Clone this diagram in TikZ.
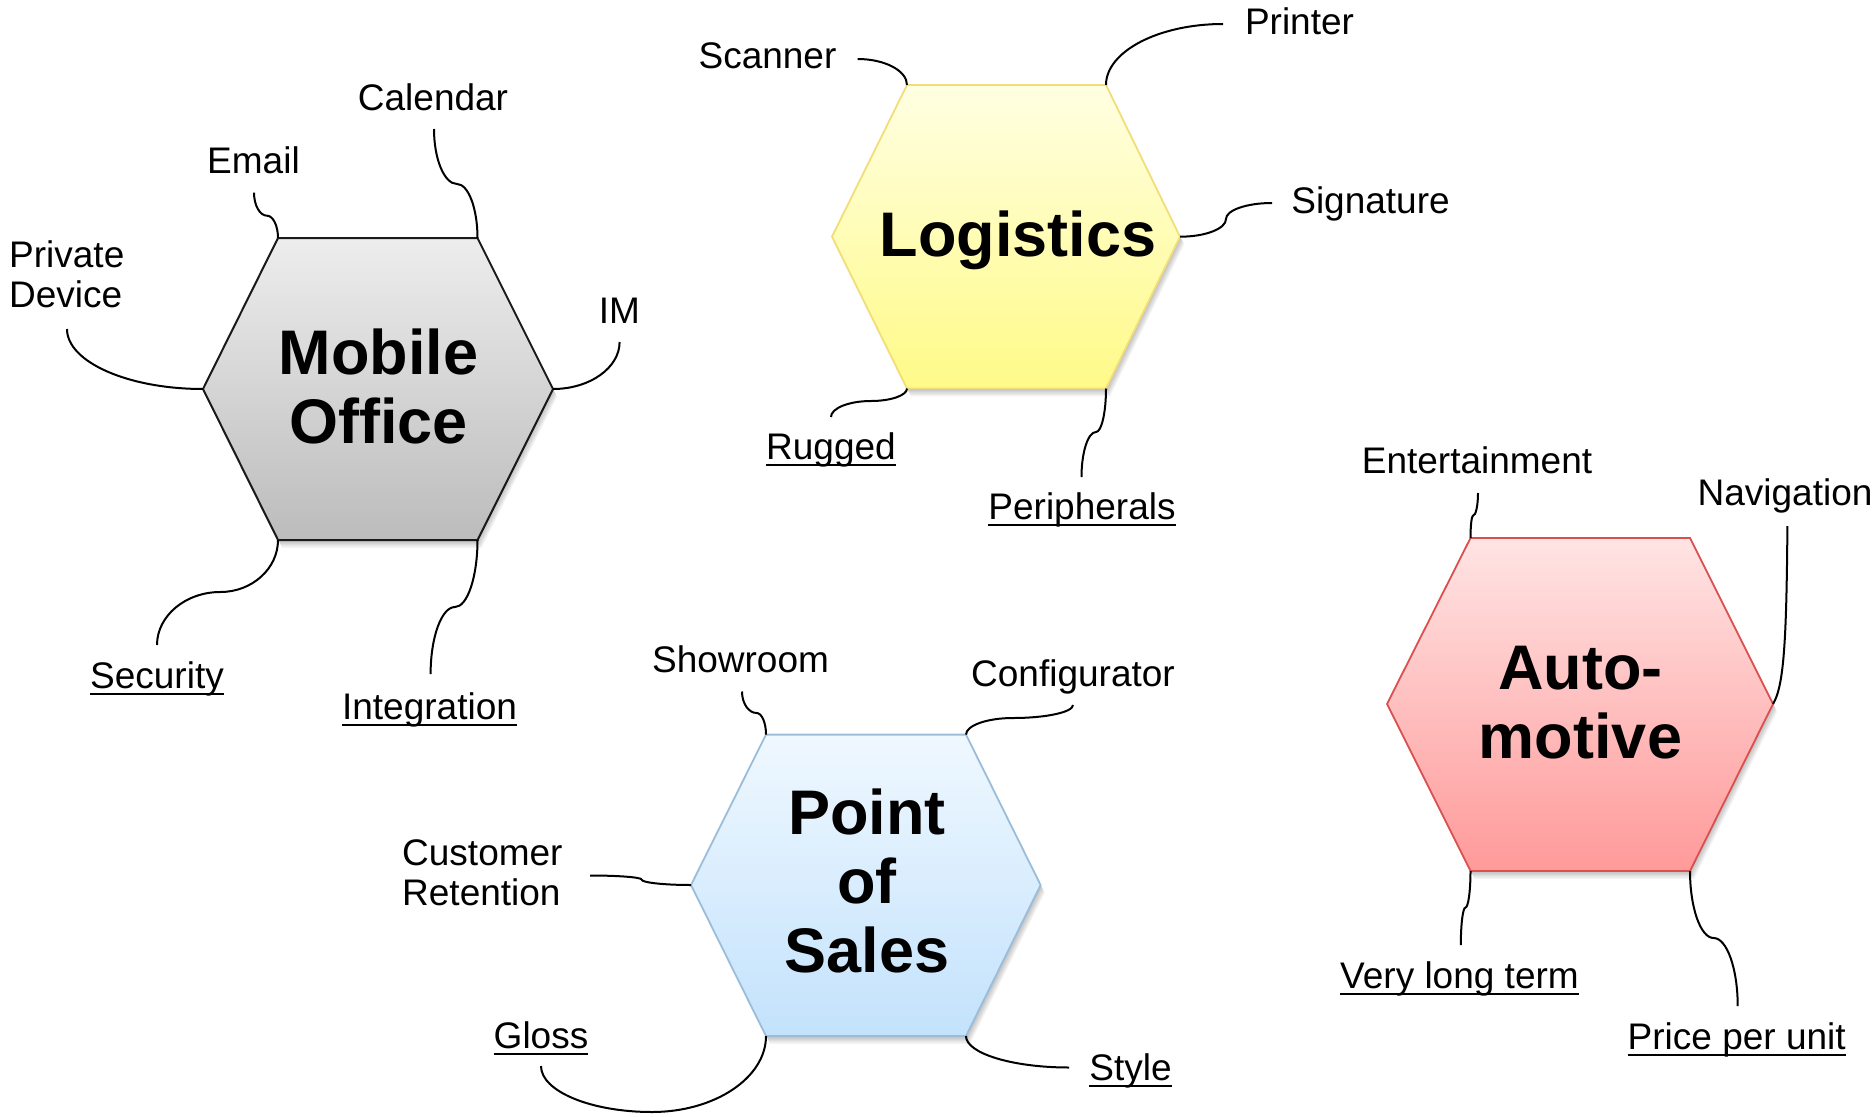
\documentclass[tikz,border=0pt]{standalone}
\usepackage{fontspec}
\setmainfont{Liberation Sans}
\usetikzlibrary{calc}
\newcommand\ulbl[1]{\setbox0=\hbox{#1}\rlap{\rule[-7pt]{\wd0}{2.5pt}}\box0}
\newcommand\cvhv[3]{\draw[conn] let \p1=(#1),\p2=(#2),\p3=(#3) in (\p1) .. controls (\x1,{\y1+0.55*(\y2-\y1)}) and ({\x2-0.55*(\x2-\x1)},\y2) .. (\p2) .. controls ({\x2+0.55*(\x3-\x2)},\y2) and (\x3,{\y3-0.55*(\y3-\y2)}) .. (\p3);}
\newcommand\chvh[3]{\draw[conn] let \p1=(#1),\p2=(#2),\p3=(#3) in (\p1) .. controls ({\x1+0.55*(\x2-\x1)},\y1) and (\x2,{\y2-0.55*(\y2-\y1)}) .. (\p2) .. controls (\x2,{\y2+0.55*(\y3-\y2)}) and ({\x3-0.55*(\x3-\x2)},\y3) .. (\p3);}
\newcommand\cvh[2]{\draw[conn] let \p1=(#1),\p2=(#2) in (\p1) .. controls (\x1,{\y1+0.55*(\y2-\y1)}) and ({\x2-0.55*(\x2-\x1)},\y2) .. (\p2);}
\newcommand\chv[2]{\draw[conn] let \p1=(#1),\p2=(#2) in (\p1) .. controls ({\x1+0.55*(\x2-\x1)},\y1) and (\x2,{\y2-0.55*(\y2-\y1)}) .. (\p2);}
% #1 name, #2 style, #3 xl, #4 xtl, #5 xtr, #6 xr, #7 ytop, #8 ymid, #9 ybot
\newcommand\hexa[9]{%
  \foreach \k in {1,...,6}{\fill[black,opacity=0.045,shift={(\k*0.7,\k*1.3)}] (#3,#8)--(#4,#7)--(#5,#7)--(#6,#8)--(#5,#9)--(#4,#9)--cycle;}
  \draw[#2] (#3,#8) coordinate (#1-l) -- (#4,#7) coordinate (#1-tl) -- (#5,#7) coordinate (#1-tr) -- (#6,#8) coordinate (#1-r) -- (#5,#9) coordinate (#1-br) -- (#4,#9) coordinate (#1-bl) -- cycle;}
\definecolor{moT}{HTML}{EDEDED}\definecolor{moB}{HTML}{BCBCBC}\definecolor{moD}{HTML}{1A1A1A}
\definecolor{loT}{HTML}{FFFFE2}\definecolor{loB}{HTML}{FFFA88}\definecolor{loD}{HTML}{F2DE78}
\definecolor{poT}{HTML}{EFF8FF}\definecolor{poB}{HTML}{C3E2FC}\definecolor{poD}{HTML}{9BBDDA}
\definecolor{auT}{HTML}{FFE4E4}\definecolor{auB}{HTML}{FF9A9A}\definecolor{auD}{HTML}{D9504F}
\begin{document}
\begin{tikzpicture}[x=1pt,y=-1pt,
  conn/.style={line width=2pt,black},
  lbl/.style={inner sep=0pt,font=\fontsize{37}{40}\selectfont,anchor=base},
  ttl/.style={inner sep=0pt,font=\fontsize{63}{69}\selectfont\bfseries,align=center,anchor=base},
  mohex/.style={line width=2pt,draw=moD,top color=moT,bottom color=moB},
  lohex/.style={line width=1.8pt,draw=loD,top color=loT,bottom color=loB},
  pohex/.style={line width=1.8pt,draw=poD,top color=poT,bottom color=poB},
  auhex/.style={line width=1.8pt,draw=auD,top color=auT,bottom color=auB}]
\fill[white] (0,0) rectangle (1876,1116);
\useasboundingbox (0,0) rectangle (1876,1116);

% ---------- hexagons
\hexa{mo}{mohex}{203}{278}{477.5}{553}{238}{389}{540}
\hexa{lo}{lohex}{832}{907}{1106}{1180}{85}{236.7}{388.5}
\hexa{po}{pohex}{691}{766}{966}{1040.6}{734.6}{885}{1036}
\hexa{au}{auhex}{1387}{1470.5}{1690}{1773}{538}{704}{871}

% ---------- titles (anchor base = last line)
\node[ttl] (mot) at (378.5,443) {Mobile\\Office};
\node[ttl] (lot) at (1018,256.6) {Logistics};
\node[ttl] (pot) at (867,972.6) {Point\\of\\Sales};
\node[ttl] (aut) at (1580.5,758.6) {Auto-\\motive};

% ---------- labels
\node[lbl] (cal) at (433,110) {Calendar};
\node[lbl] (ema) at (253.5,173.5) {Email};
\node[lbl,anchor=base west,align=left] (pri) at (9,307.5) {Private\\Device};
\node[lbl] (im) at (619.5,323) {IM};
\node[lbl] (sec) at (157,688) {\ulbl{Security}};
\node[lbl] (int) at (429.5,719) {\ulbl{Integration}};

\node[lbl] (sca) at (767.5,69) {Scanner};
\node[lbl] (pri2) at (1299.5,35) {Printer};
\node[lbl] (sig) at (1370.5,213.5) {Signature};
\node[lbl] (rug) at (831,459) {\ulbl{Rugged}};
\node[lbl] (per) at (1082,519) {\ulbl{Peripherals}};

\node[lbl] (sho) at (740.5,672) {Showroom};
\node[lbl] (con) at (1073,686) {Configurator};
\node[lbl,anchor=base west,align=left] (cus) at (402,905.5) {Customer\\Retention};
\node[lbl] (glo) at (541,1048) {\ulbl{Gloss}};
\node[lbl] (sty) at (1130.5,1080) {\ulbl{Style}};

\node[lbl] (ent) at (1477,473) {Entertainment};
\node[lbl] (nav) at (1785,505.5) {Navigation};
\node[lbl] (vlt) at (1459.5,988) {\ulbl{Very long term}};
\node[lbl] (ppu) at (1736.7,1049) {\ulbl{Price per unit}};

% ---------- connector points
\coordinate (cal-p) at (434,129);   \coordinate (cal-m) at (457,184);
\coordinate (ema-p) at (254,192.6); \coordinate (ema-m) at (267,215.7);
\coordinate (pri-p) at (67,329);
\coordinate (im-p) at (619.6,342);
\coordinate (sec-p) at (157,645);   \coordinate (sec-m) at (220.4,592);
\coordinate (int-p) at (430.6,674); \coordinate (int-m) at (455,607);

\coordinate (sca-p) at (857.6,59);
\coordinate (pri2-p) at (1223,24);
\coordinate (sig-p) at (1272,203);  \coordinate (sig-m) at (1226,219);
\coordinate (rug-p) at (831,417);   \coordinate (rug-m) at (871,401);
\coordinate (per-p) at (1081.5,477);\coordinate (per-m) at (1096,432);

\coordinate (sho-p) at (742,691.5); \coordinate (sho-m) at (756.6,713);
\coordinate (con-p) at (1073,705);  \coordinate (con-m) at (1013,718);
\coordinate (cus-p) at (590,875.5); \coordinate (cus-m) at (641.5,879.5);
\coordinate (glo-p) at (541,1066);  \coordinate (glo-m) at (652,1112);
\coordinate (sty-p) at (1069,1067.5);

\coordinate (ent-p) at (1478,493);  \coordinate (ent-m) at (1473,515.7);
\coordinate (nav-p) at (1787.4,526);
\coordinate (vlt-p) at (1460.8,945);\coordinate (vlt-m) at (1465.4,907.6);
\coordinate (ppu-p) at (1737.7,1006);\coordinate (ppu-m) at (1713.6,938);

% ---------- connectors
\cvhv{cal-p}{cal-m}{mo-tr}
\cvhv{ema-p}{ema-m}{mo-tl}
\cvh{pri-p}{mo-l}
\cvh{im-p}{mo-r}
\cvhv{sec-p}{sec-m}{mo-bl}
\cvhv{int-p}{int-m}{mo-br}

\chv{sca-p}{lo-tl}
\chv{pri2-p}{lo-tr}
\chvh{sig-p}{sig-m}{lo-r}
\cvhv{rug-p}{rug-m}{lo-bl}
\cvhv{per-p}{per-m}{lo-br}

\cvhv{sho-p}{sho-m}{po-tl}
\cvhv{con-p}{con-m}{po-tr}
\chvh{cus-p}{cus-m}{po-l}
\cvhv{glo-p}{glo-m}{po-bl}
\cvh{po-br}{sty-p}

\cvhv{ent-p}{ent-m}{au-tl}
\draw[conn] (nav-p) .. controls (1786.5,640) and (1784,686) .. (au-r);
\cvhv{vlt-p}{vlt-m}{au-bl}
\cvhv{ppu-p}{ppu-m}{au-br}
\end{tikzpicture}
\end{document}
